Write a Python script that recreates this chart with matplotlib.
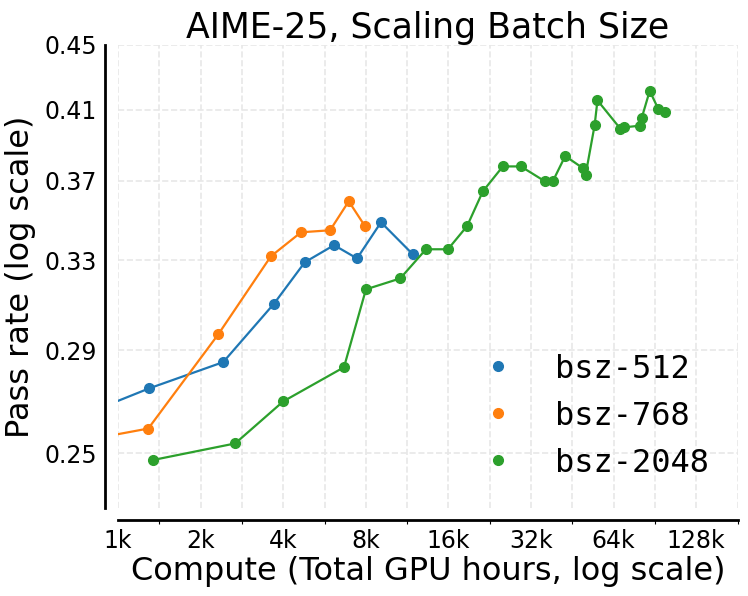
import numpy as np
import matplotlib
matplotlib.use('Agg')
import matplotlib.pyplot as plt
from matplotlib.ticker import FixedLocator, NullLocator, FixedFormatter
from matplotlib.lines import Line2D

# Данные (GPU-часы, pass rate)
x_512 = [700, 1297, 2417, 3706, 4794, 6129, 7431, 9086, 11880]
y_512 = [0.263, 0.2744, 0.285, 0.3101, 0.3291, 0.3373, 0.3309, 0.3486, 0.3328]

x_768 = [700, 1289, 2318, 3605, 4644, 5926, 6932, 7947]
y_768 = [0.254, 0.259, 0.2966, 0.3319, 0.3436, 0.3446, 0.3593, 0.3466]

x_2048 = [1338, 2673, 3997, 6659, 8008, 10674, 13250, 15933, 18716, 21362,
          25260, 29380, 35930, 38420, 42630, 49400, 50610, 54570, 55880,
          67640, 70070, 79580, 80940, 86620, 93170, 98230]
y_2048 = [0.2475, 0.2535, 0.2693, 0.2829, 0.3165, 0.3215, 0.3353, 0.3353,
          0.3467, 0.3645, 0.3778, 0.3778, 0.3698, 0.3698, 0.3835, 0.3769,
          0.3734, 0.4009, 0.4155, 0.399, 0.3997, 0.4006, 0.4049, 0.4212,
          0.4103, 0.4084]

labels = ['bsz-512', 'bsz-768', 'bsz-2048']
colors = ['#1f77b4', '#ff7f0e', '#2ca02c']

x_ticks = [1000, 2000, 4000, 8000, 16000, 32000, 64000, 128000]
x_tick_labels = ['1k', '2k', '4k', '8k', '16k', '32k', '64k', '128k']
y_ticks = [0.25, 0.29, 0.33, 0.37, 0.41, 0.45]
y_tick_labels = ['0.25', '0.29', '0.33', '0.37', '0.41', '0.45']

fig = plt.figure(figsize=(7.48, 5.96), dpi=100)
ax = fig.add_axes([0.1578, 0.1477, 0.8282, 0.7768])

series = [(x_512, y_512), (x_768, y_768), (x_2048, y_2048)]
for (xs, ys), c in zip(series, colors):
    ax.plot(xs, ys, color=c, lw=1.6, marker='o', ms=7)

ax.set_xscale('log')
ax.set_yscale('log')
ax.set_xlim(1000, 1000 * 2 ** 7.5)
ax.set_ylim(0.231, 0.45)

ax.xaxis.set_major_locator(FixedLocator(x_ticks))
ax.xaxis.set_major_formatter(FixedFormatter(x_tick_labels))
ax.xaxis.set_minor_locator(FixedLocator([t * 2 ** 0.5 for t in x_ticks]))
ax.xaxis.set_minor_formatter(FixedFormatter([''] * len(x_ticks)))
ax.yaxis.set_major_locator(FixedLocator(y_ticks))
ax.yaxis.set_major_formatter(FixedFormatter(y_tick_labels))
ax.yaxis.set_minor_locator(NullLocator())

ax.tick_params(axis='both', which='major', length=0, labelsize=17)
ax.tick_params(axis='x', which='major', pad=7)
ax.tick_params(axis='y', which='major', pad=5.5)
ax.tick_params(axis='x', which='minor', length=3, width=0.8, direction='out')

ax.grid(True, which='both', axis='x', linestyle='--', color='#e8e8e8', lw=1.2)
ax.grid(True, which='major', axis='y', linestyle='--', color='#e8e8e8', lw=1.2)
ax.set_axisbelow(True)

for s in ['top', 'right']:
    ax.spines[s].set_visible(False)
ax.spines['left'].set_position(('outward', 9.5))
ax.spines['bottom'].set_position(('outward', 8.5))
ax.spines['left'].set_linewidth(2)
ax.spines['bottom'].set_linewidth(2)

ax.set_title('AIME-25, Scaling Batch Size', fontsize=25, pad=4)
ax.set_xlabel('Compute (Total GPU hours, log scale)', fontsize=23, labelpad=2)
ax.set_ylabel('Pass rate (log scale)', fontsize=23, labelpad=6)

handles = [Line2D([], [], color=c, marker='o', ls='none', ms=7) for c in colors]
ax.legend(handles, labels, loc='lower right', bbox_to_anchor=(1.0, 0.0015),
          frameon=False, prop={'family': 'DejaVu Sans Mono', 'size': 23},
          handletextpad=0.78)

fig.savefig('out.png', dpi=100)
